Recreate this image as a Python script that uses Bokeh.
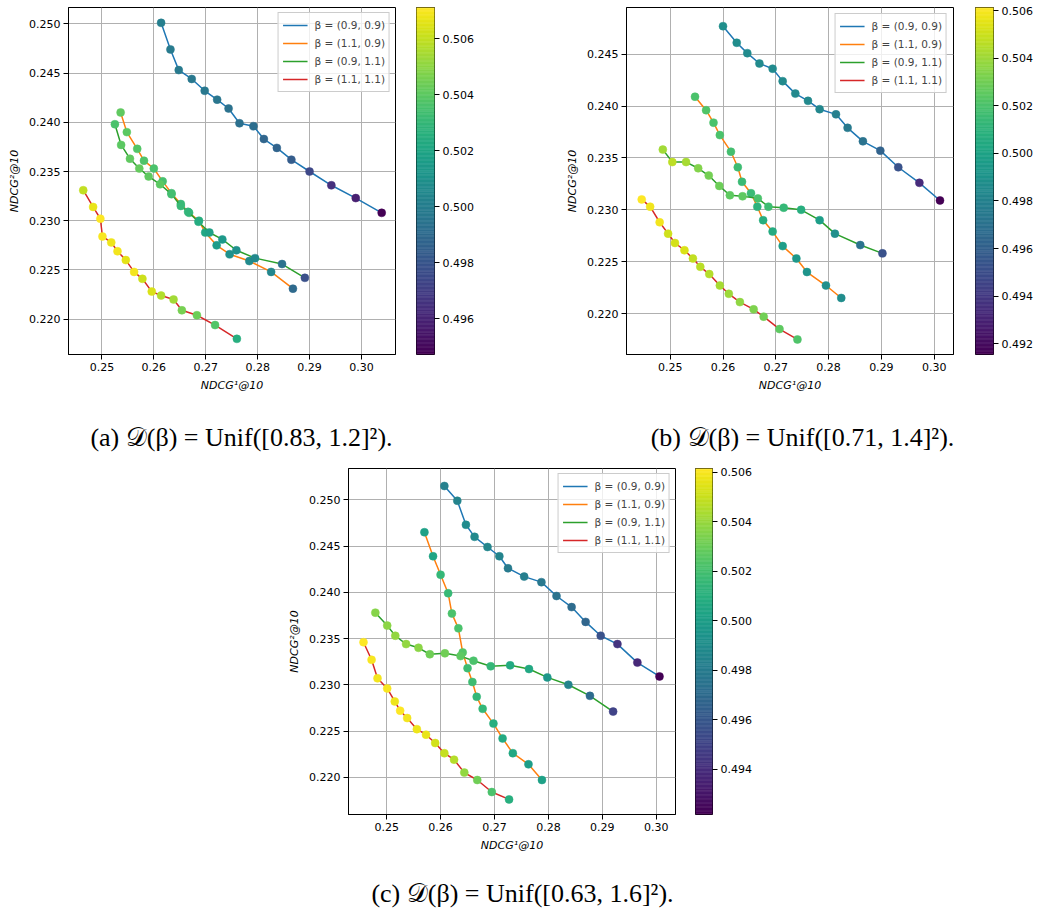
import numpy as np
from bokeh.plotting import figure
from bokeh.layouts import column, row
from bokeh.models import (Range1d, FixedTicker, PrintfTickFormatter, LinearColorMapper,
                          Legend, LegendItem, ColumnDataSource)
from bokeh.palettes import Viridis256
from bokeh.embed import file_html
from bokeh.resources import INLINE
from bokeh.core.properties import value

# ---------------- data ----------------
series_labels = ["β = (0.9, 0.9)", "β = (1.1, 0.9)", "β = (0.9, 1.1)", "β = (1.1, 1.1)"]
x_ticks = [0.25, 0.26, 0.27, 0.28, 0.29, 0.30]
a_y_ticks = [0.220, 0.225, 0.230, 0.235, 0.240, 0.245, 0.250]
b_y_ticks = [0.220, 0.225, 0.230, 0.235, 0.240, 0.245]
c_y_ticks = [0.220, 0.225, 0.230, 0.235, 0.240, 0.245, 0.250]
a_cbar_ticks = [0.496, 0.498, 0.500, 0.502, 0.504, 0.506]
b_cbar_ticks = [0.492, 0.494, 0.496, 0.498, 0.500, 0.502, 0.504, 0.506]
c_cbar_ticks = [0.494, 0.496, 0.498, 0.500, 0.502, 0.504, 0.506]
a_c_range = [0.49473, 0.50712]
b_c_range = [0.49155, 0.50613]
c_c_range = [0.49218, 0.50615]
captions = ["(a) 𝒟(β) = Unif([0.83, 1.2]²).",
            "(b) 𝒟(β) = Unif([0.71, 1.4]²).",
            "(c) 𝒟(β) = Unif([0.63, 1.6]²)."]

# panel (a)
a_blue_x = [0.2614, 0.2632, 0.2648, 0.2673, 0.2698, 0.2722, 0.2744, 0.2765, 0.2792, 0.2812, 0.2837, 0.2865, 0.2900, 0.2942, 0.2989, 0.3039]
a_blue_y = [0.2501, 0.2474, 0.2453, 0.2444, 0.2432, 0.2423, 0.2414, 0.2399, 0.2396, 0.2383, 0.2374, 0.2362, 0.2350, 0.2336, 0.2323, 0.2308]
a_blue_c = [0.5001, 0.4999, 0.4998, 0.4997, 0.4997, 0.4996, 0.4994, 0.4993, 0.4992, 0.4988, 0.4987, 0.4984, 0.4974, 0.4965, 0.4958, 0.4947]
a_orange_x = [0.2536, 0.2548, 0.2568, 0.2581, 0.2600, 0.2617, 0.2634, 0.2652, 0.2668, 0.2687, 0.2699, 0.2721, 0.2746, 0.2784, 0.2826, 0.2868]
a_orange_y = [0.2410, 0.2390, 0.2373, 0.2361, 0.2353, 0.2340, 0.2328, 0.2317, 0.2308, 0.2300, 0.2288, 0.2275, 0.2266, 0.2259, 0.2248, 0.2231]
a_orange_c = [0.5041, 0.5040, 0.5038, 0.5037, 0.5036, 0.5035, 0.5033, 0.5031, 0.5030, 0.5026, 0.5021, 0.5016, 0.5010, 0.5007, 0.5004, 0.4990]
a_green_x = [0.2525, 0.2537, 0.2554, 0.2572, 0.2590, 0.2612, 0.2634, 0.2652, 0.2666, 0.2686, 0.2707, 0.2732, 0.2759, 0.2795, 0.2847, 0.2891]
a_green_y = [0.2398, 0.2377, 0.2363, 0.2353, 0.2345, 0.2337, 0.2327, 0.2315, 0.2309, 0.2299, 0.2288, 0.2281, 0.2270, 0.2262, 0.2256, 0.2242]
a_green_c = [0.5036, 0.5040, 0.5041, 0.5042, 0.5041, 0.5040, 0.5034, 0.5031, 0.5029, 0.5024, 0.5018, 0.5014, 0.5010, 0.5006, 0.4994, 0.4978]
a_red_x = [0.2464, 0.2483, 0.2497, 0.2501, 0.2518, 0.2530, 0.2546, 0.2562, 0.2578, 0.2596, 0.2614, 0.2638, 0.2654, 0.2683, 0.2718, 0.2760]
a_red_y = [0.2331, 0.2314, 0.2302, 0.2284, 0.2278, 0.2269, 0.2260, 0.2248, 0.2241, 0.2228, 0.2224, 0.2220, 0.2209, 0.2204, 0.2194, 0.2180]
a_red_c = [0.5060, 0.5067, 0.5071, 0.5070, 0.5068, 0.5069, 0.5066, 0.5069, 0.5062, 0.5064, 0.5057, 0.5054, 0.5046, 0.5044, 0.5038, 0.5025]

# panel (b)
b_blue_x = [0.2600, 0.2626, 0.2646, 0.2669, 0.2694, 0.2713, 0.2737, 0.2761, 0.2783, 0.2814, 0.2836, 0.2865, 0.2898, 0.2932, 0.2972, 0.3011]
b_blue_y = [0.2477, 0.2461, 0.2451, 0.2441, 0.2436, 0.2424, 0.2412, 0.2405, 0.2397, 0.2392, 0.2379, 0.2366, 0.2357, 0.2341, 0.2326, 0.2309]
b_blue_c = [0.4988, 0.4987, 0.4986, 0.4986, 0.4985, 0.4985, 0.4984, 0.4984, 0.4983, 0.4979, 0.4975, 0.4971, 0.4962, 0.4953, 0.4934, 0.4916]
b_orange_x = [0.2547, 0.2568, 0.2582, 0.2594, 0.2615, 0.2628, 0.2636, 0.2653, 0.2665, 0.2676, 0.2694, 0.2713, 0.2739, 0.2759, 0.2795, 0.2824]
b_orange_y = [0.2409, 0.2396, 0.2384, 0.2372, 0.2356, 0.2341, 0.2327, 0.2316, 0.2303, 0.2290, 0.2279, 0.2265, 0.2253, 0.2240, 0.2227, 0.2215]
b_orange_c = [0.5020, 0.5022, 0.5020, 0.5020, 0.5018, 0.5016, 0.5015, 0.5015, 0.5010, 0.5007, 0.5005, 0.4997, 0.4993, 0.4991, 0.4988, 0.4987]
b_green_x = [0.2486, 0.2504, 0.2530, 0.2553, 0.2573, 0.2593, 0.2613, 0.2637, 0.2666, 0.2686, 0.2715, 0.2748, 0.2783, 0.2812, 0.2860, 0.2902]
b_green_y = [0.2358, 0.2346, 0.2346, 0.2340, 0.2333, 0.2323, 0.2314, 0.2313, 0.2311, 0.2303, 0.2302, 0.2300, 0.2290, 0.2277, 0.2266, 0.2258]
b_green_c = [0.5041, 0.5047, 0.5042, 0.5034, 0.5031, 0.5029, 0.5025, 0.5025, 0.5020, 0.5016, 0.5013, 0.5007, 0.4997, 0.4988, 0.4971, 0.4952]
b_red_x = [0.2446, 0.2462, 0.2480, 0.2496, 0.2509, 0.2527, 0.2543, 0.2557, 0.2574, 0.2594, 0.2611, 0.2632, 0.2658, 0.2677, 0.2707, 0.2741]
b_red_y = [0.2310, 0.2303, 0.2288, 0.2277, 0.2268, 0.2261, 0.2253, 0.2245, 0.2238, 0.2227, 0.2219, 0.2211, 0.2204, 0.2197, 0.2185, 0.2175]
b_red_c = [0.5061, 0.5058, 0.5059, 0.5051, 0.5052, 0.5053, 0.5048, 0.5046, 0.5045, 0.5042, 0.5040, 0.5037, 0.5033, 0.5030, 0.5025, 0.5021]

# panel (c)
c_blue_x = [0.2607, 0.2631, 0.2647, 0.2663, 0.2687, 0.2709, 0.2725, 0.2755, 0.2787, 0.2815, 0.2843, 0.2869, 0.2897, 0.2928, 0.2965, 0.3006]
c_blue_y = [0.2515, 0.2499, 0.2473, 0.2460, 0.2449, 0.2439, 0.2426, 0.2417, 0.2411, 0.2396, 0.2384, 0.2368, 0.2353, 0.2344, 0.2324, 0.2309]
c_blue_c = [0.4983, 0.4985, 0.4990, 0.4988, 0.4986, 0.4985, 0.4980, 0.4982, 0.4978, 0.4975, 0.4971, 0.4968, 0.4957, 0.4943, 0.4938, 0.4922]
c_orange_x = [0.2570, 0.2586, 0.2600, 0.2614, 0.2621, 0.2633, 0.2641, 0.2650, 0.2659, 0.2667, 0.2678, 0.2698, 0.2715, 0.2734, 0.2763, 0.2788]
c_orange_y = [0.2465, 0.2439, 0.2419, 0.2399, 0.2377, 0.2361, 0.2335, 0.2318, 0.2303, 0.2287, 0.2274, 0.2258, 0.2242, 0.2226, 0.2214, 0.2197]
c_orange_c = [0.5002, 0.5004, 0.5015, 0.5016, 0.5022, 0.5022, 0.5024, 0.5018, 0.5018, 0.5015, 0.5015, 0.5010, 0.5007, 0.5006, 0.5000, 0.5002]
c_green_x = [0.2479, 0.2501, 0.2516, 0.2536, 0.2559, 0.2580, 0.2608, 0.2637, 0.2661, 0.2693, 0.2729, 0.2764, 0.2798, 0.2837, 0.2877, 0.2920]
c_green_y = [0.2378, 0.2364, 0.2353, 0.2344, 0.2340, 0.2333, 0.2334, 0.2331, 0.2326, 0.2320, 0.2321, 0.2317, 0.2308, 0.2300, 0.2288, 0.2271]
c_green_c = [0.5036, 0.5037, 0.5039, 0.5039, 0.5037, 0.5031, 0.5031, 0.5027, 0.5022, 0.5015, 0.5007, 0.5006, 0.4996, 0.4985, 0.4971, 0.4950]
c_red_x = [0.2457, 0.2472, 0.2483, 0.2501, 0.2515, 0.2525, 0.2538, 0.2556, 0.2573, 0.2590, 0.2607, 0.2625, 0.2644, 0.2668, 0.2695, 0.2727]
c_red_y = [0.2346, 0.2327, 0.2307, 0.2296, 0.2282, 0.2272, 0.2264, 0.2252, 0.2246, 0.2237, 0.2226, 0.2219, 0.2205, 0.2197, 0.2184, 0.2176]
c_red_c = [0.5061, 0.5060, 0.5059, 0.5060, 0.5058, 0.5061, 0.5059, 0.5058, 0.5057, 0.5052, 0.5049, 0.5046, 0.5039, 0.5031, 0.5022, 0.5010]

# ---------------- style ----------------
LINE_COLORS = ["#1f77b4", "#ff7f0e", "#2ca02c", "#d62728"]
FONT = "DejaVu Sans"
TICK_SIZE = "11px"


def style_axis(ax, ticks, fmt):
    ax.ticker = FixedTicker(ticks=ticks)
    ax.formatter = PrintfTickFormatter(format=fmt)
    ax.major_tick_out = 5
    ax.major_tick_in = 0
    ax.minor_tick_out = 0
    ax.minor_tick_in = 0
    ax.major_tick_line_color = "black"
    ax.axis_line_color = "black"
    ax.major_label_text_font = FONT
    ax.major_label_text_font_size = TICK_SIZE
    ax.major_label_text_color = "black"
    ax.major_label_standoff = 3
    ax.axis_label_text_font = FONT
    ax.axis_label_text_font_size = TICK_SIZE
    ax.axis_label_text_font_style = "italic"
    ax.axis_label_text_color = "black"
    ax.axis_label_standoff = 5


def make_panel(series, xr, yr, yticks, crange, mb_left, fw, fh, mb_top, mb_bottom, legend_margin):
    p = figure(frame_width=fw, frame_height=fh, x_range=Range1d(*xr), y_range=Range1d(*yr),
               min_border_left=mb_left, min_border_right=1, min_border_top=mb_top,
               min_border_bottom=mb_bottom, toolbar_location=None, output_backend="svg")
    p.outline_line_color = "black"
    p.outline_line_alpha = 1
    p.outline_line_width = 1
    p.background_fill_color = "white"
    p.border_fill_color = "white"
    style_axis(p.xaxis[0], x_ticks, "%.2f")
    style_axis(p.yaxis[0], yticks, "%.3f")
    p.xaxis.axis_label = "NDCG¹@10"
    p.yaxis.axis_label = "NDCG²@10"
    p.grid.grid_line_color = "#b0b0b0"
    p.grid.grid_line_width = 1
    mapper = LinearColorMapper(palette=Viridis256, low=crange[0], high=crange[1])
    items = []
    for (xs, ys, cs), col, lab in zip(series, LINE_COLORS, series_labels):
        src = ColumnDataSource(dict(x=xs, y=ys, c=cs))
        r = p.line("x", "y", source=src, line_color=col, line_width=1.5)
        p.scatter("x", "y", source=src, size=8,
                  fill_color={"field": "c", "transform": mapper},
                  line_color={"field": "c", "transform": mapper}, line_width=0.5)
        items.append(LegendItem(label=lab, renderers=[r]))
    leg = Legend(items=items, location="top_right")
    leg.label_text_font = FONT
    leg.label_text_font_size = "10.5px"
    leg.glyph_width = 25
    leg.glyph_height = 16
    leg.label_height = 16
    leg.spacing = 2
    leg.padding = 4
    leg.margin = legend_margin
    leg.label_standoff = 7
    leg.border_line_color = "#cccccc"
    leg.border_line_alpha = 1
    leg.background_fill_alpha = 0.8
    p.add_layout(leg)
    return p


def make_cbar(crange, ticks, mb_left, fw, fh, mb_right, mb_top, mb_bottom):
    lo, hi = crange
    p = figure(frame_width=fw, frame_height=fh, x_range=Range1d(0, 1), y_range=Range1d(lo, hi),
               x_axis_location=None, y_axis_location="right",
               min_border_left=mb_left, min_border_right=mb_right, min_border_top=mb_top,
               min_border_bottom=mb_bottom, toolbar_location=None, output_backend="svg")
    p.grid.visible = False
    edges = np.linspace(lo, hi, 257)
    pal = list(Viridis256)
    p.quad(left=0, right=1, bottom=edges[:-1], top=edges[1:], fill_color=pal,
           line_color=pal, line_width=0.6)
    p.outline_line_color = "black"
    p.outline_line_alpha = 1
    style_axis(p.yaxis[0], ticks, "%.3f")
    p.yaxis.axis_line_color = None
    p.border_fill_color = "white"
    return p


def make_caption(texts, xs, center_y, width, height):
    p = figure(frame_width=width, frame_height=height, x_range=Range1d(0, width),
               y_range=Range1d(height, 0), x_axis_location=None, y_axis_location=None,
               min_border=0, toolbar_location=None, output_backend="svg")
    p.grid.visible = False
    p.outline_line_color = None
    p.text(x=xs, y=[center_y] * len(xs), text=texts, text_font=value("Liberation Serif"),
           text_font_size="26px", text_align="center", text_baseline="middle",
           text_color="black")
    return p


pa = make_panel([(a_blue_x, a_blue_y, a_blue_c), (a_orange_x, a_orange_y, a_orange_c),
                 (a_green_x, a_green_y, a_green_c), (a_red_x, a_red_y, a_red_c)],
                (0.24356, 0.30656), (0.21641, 0.25166), a_y_ticks, a_c_range,
                68, 327, 347, 7, 46, 5)
ca = make_cbar(a_c_range, a_cbar_ticks, 20, 18, 347, 66, 7, 46)
pb = make_panel([(b_blue_x, b_blue_y, b_blue_c), (b_orange_x, b_orange_y, b_orange_c),
                 (b_green_x, b_green_y, b_green_c), (b_red_x, b_red_y, b_red_c)],
                (0.24172, 0.30366), (0.21605, 0.2495), b_y_ticks, b_c_range,
                126, 327, 347, 7, 46, 6)
cb = make_cbar(b_c_range, b_cbar_ticks, 21, 18, 347, 45, 7, 46)
pc = make_panel([(c_blue_x, c_blue_y, c_blue_c), (c_orange_x, c_orange_y, c_orange_c),
                 (c_green_x, c_green_y, c_green_c), (c_red_x, c_red_y, c_red_c)],
                (0.24292, 0.30357), (0.21597, 0.25339), c_y_ticks, c_c_range,
                348, 327, 346, 8, 46, 5)
cc = make_cbar(c_c_range, c_cbar_ticks, 19, 17, 346, 60, 8, 46)

cap1 = make_caption(captions[:2], [241, 802], 37, 1039, 60)
cap2 = make_caption(captions[2:], [522], 33, 1039, 53)

layout = column(row(pa, ca, pb, cb), cap1, row(pc, cc), cap2)

with open("out.html", "w") as f:
    f.write(file_html(layout, INLINE))
